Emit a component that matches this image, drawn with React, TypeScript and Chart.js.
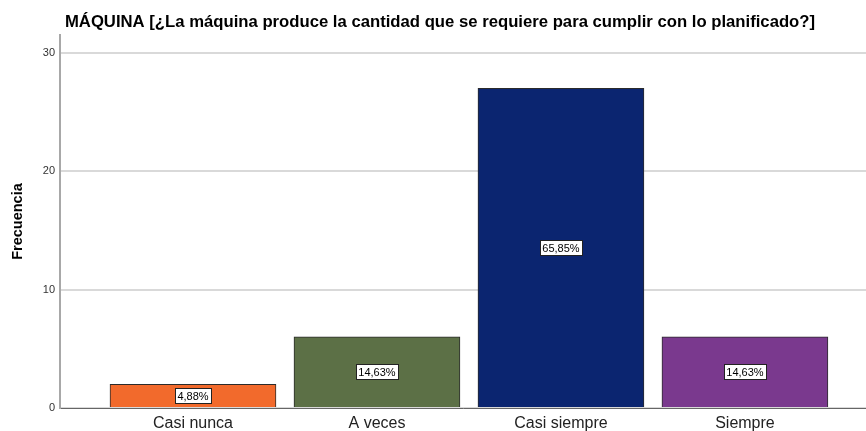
import React, { useEffect, useRef } from "react";
import { Chart, registerables } from "chart.js";

Chart.register(...registerables);

const titleText = "MÁQUINA [¿La máquina produce la cantidad que se requiere para cumplir con lo planificado?]";
const categories = ["Casi nunca", "A veces", "Casi siempre", "Siempre"];
const frequencies = [2, 6, 27, 6];
const percentLabels = ["4,88%", "14,63%", "65,85%", "14,63%"];
const barColors = ["#F26A2C", "#5C7046", "#0B2570", "#7A398E"];
const yTicks = [0, 10, 20, 30];
const yAxisTitle = "Frecuencia";

const FONT = "'Liberation Sans', Arial, sans-serif";

const titlePlugin = {
  id: "customTitle",
  afterDraw(chart: any) {
    const ctx = chart.ctx;
    ctx.save();
    ctx.font = `bold 16.7px ${FONT}`;
    ctx.fillStyle = "#000000";
    ctx.textAlign = "center";
    ctx.textBaseline = "middle";
    ctx.fillText(titleText, 440, 22);
    ctx.restore();
  },
};

const labelPlugin = {
  id: "pctLabels",
  afterDatasetsDraw(chart: any) {
    const ctx = chart.ctx;
    const meta = chart.getDatasetMeta(0);
    ctx.save();
    ctx.font = `11px ${FONT}`;
    ctx.textAlign = "center";
    ctx.textBaseline = "middle";
    meta.data.forEach((bar: any, i: number) => {
      const cx = bar.x;
      const cy = (bar.y + bar.base) / 2;
      const txt = percentLabels[i];
      const w = Math.round(ctx.measureText(txt).width + 5);
      const h = 15;
      const x0 = Math.round(cx - w / 2) + 0.5;
      const y0 = Math.round(cy - h / 2) + 0.5;
      ctx.fillStyle = "#ffffff";
      ctx.fillRect(x0, y0, w, h);
      ctx.strokeStyle = "#222222";
      ctx.lineWidth = 1;
      ctx.strokeRect(x0, y0, w, h);
      ctx.fillStyle = "#000000";
      ctx.fillText(txt, cx, cy + 1);
    });
    ctx.restore();
  },
};

export default function App() {
  const ref = useRef<HTMLCanvasElement | null>(null);
  useEffect(() => {
    if (!ref.current) return;
    const chart = new Chart(ref.current, {
      type: "bar",
      data: {
        datasets: [
          {
            data: frequencies.map((v, i) => ({ x: i, y: v })),
            backgroundColor: barColors,
            borderColor: "#2b2b2b",
            borderWidth: 1,
            barThickness: 166,
          },
        ],
      },
      options: {
        animation: false,
        responsive: true,
        maintainAspectRatio: false,
        layout: { padding: { left: 0, right: 0, top: 35, bottom: 0 } },
        plugins: {
          legend: { display: false },
          tooltip: { enabled: false },
          title: { display: false },
        },
        scales: {
          x: {
            type: "linear",
            min: -0.7228,
            max: 3.658,
            offset: false,
            afterBuildTicks: (scale: any) => {
              scale.ticks = categories.map((_, i) => ({ value: i }));
            },
            afterFit: (scale: any) => {
              scale.height = 23;
            },
            ticks: {
              autoSkip: false,
              maxRotation: 0,
              padding: 6,
              color: "#222222",
              font: { family: FONT, size: 16 },
              callback: (v: any) => categories[Math.round(Number(v))] ?? "",
            },
            grid: { display: false, drawTicks: false },
            border: { display: true, color: "#666666", width: 1 },
          },
          y: {
            min: 0,
            max: 31.5,
            afterBuildTicks: (scale: any) => {
              scale.ticks = yTicks.map((v) => ({ value: v }));
            },
            afterFit: (scale: any) => {
              scale.width = 60;
            },
            ticks: {
              padding: 5,
              color: "#333333",
              font: { family: FONT, size: 11 },
            },
            grid: { color: "#d9d9d9", lineWidth: 2, drawTicks: false },
            border: { display: true, color: "#a8a8a8", width: 2 },
            title: {
              display: true,
              text: yAxisTitle,
              color: "#000000",
              font: { family: FONT, size: 14.5, weight: "bold" },
              padding: { top: 9, bottom: 0 },
            },
          },
        },
      },
      plugins: [labelPlugin, titlePlugin],
    });
    return () => chart.destroy();
  }, []);
  return (
    <div style={{ position: "fixed", left: 0, top: 0, width: 866, height: 431, background: "#ffffff" }}>
      <canvas ref={ref} />
    </div>
  );
}
